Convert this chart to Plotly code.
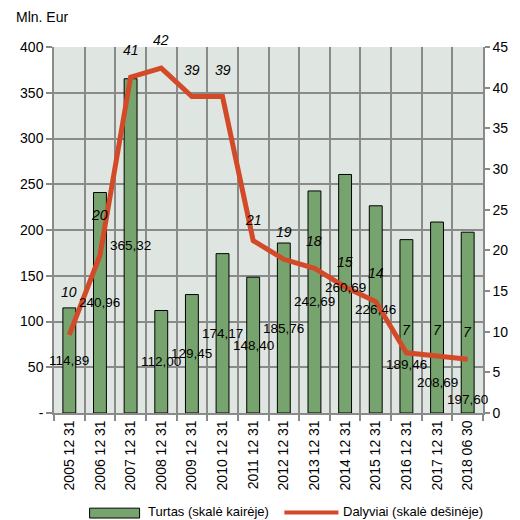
import plotly.graph_objects as go

categories = ["2005 12 31", "2006 12 31", "2007 12 31", "2008 12 31", "2009 12 31",
              "2010 12 31", "2011 12 31", "2012 12 31", "2013 12 31", "2014 12 31",
              "2015 12 31", "2016 12 31", "2017 12 31", "2018 06 30"]
turtas = [114.89, 240.96, 365.32, 112.00, 129.45, 174.17, 148.40, 185.76,
          242.69, 260.69, 226.46, 189.46, 208.69, 197.60]
dalyviai = [9.6, 19.4, 41.3, 42.4, 38.9, 38.9, 21.2, 18.9, 17.8, 15.5, 13.7, 7.4, 7.0, 6.6]
dalyviai_labels = ["10", "20", "41", "42", "39", "39", "21", "19", "18", "15", "14", "7", "7", "7"]
left_ticks = [0, 50, 100, 150, 200, 250, 300, 350, 400]
left_ticktext = ["-", "50", "100", "150", "200", "250", "300", "350", "400"]

# label offsets (style only)
bar_label_shift = [0, 0, 0, 0, 0, 0, 0, 0, 0, 6, 0, -38, -65, -77]
line_label_shift = [43, 40, 27, 28, 27, 27, 21, 27, 27, 25, 29, 23, 26, 27]

FONT = "Liberation Sans, Arial, sans-serif"
GREEN = "#77a46e"
RED = "#d24a28"
GRID = "#8a8a8a"
BG = "#dfe6e1"

fig = go.Figure()
fig.add_trace(go.Bar(x=categories, y=turtas, name="Turtas (skalė kairėje)",
                     marker=dict(color=GREEN, line=dict(color="black", width=1)),
                     width=0.42, yaxis="y", showlegend=False))
fig.add_trace(go.Scatter(x=categories, y=dalyviai, name="Dalyviai (skalė dešinėje)",
                         mode="lines", line=dict(color=RED, width=5),
                         yaxis="y2", showlegend=False))

annotations = []
for c, v, s in zip(categories, turtas, bar_label_shift):
    annotations.append(dict(x=c, y=v / 2, xref="x", yref="y", yshift=s,
                            text=f"{v:.2f}".replace(".", ","), showarrow=False,
                            font=dict(family=FONT, size=13.5, color="black")))
for c, v, t, s in zip(categories, dalyviai, dalyviai_labels, line_label_shift):
    annotations.append(dict(x=c, y=v, xref="x", yref="y2", yshift=s,
                            text=f"<i>{t}</i>", showarrow=False,
                            font=dict(family=FONT, size=14, color="black")))

# title
annotations.append(dict(x=-0.094, y=1.082, xref="paper", yref="paper", xanchor="left",
                        yanchor="middle", text="Mln. Eur", showarrow=False,
                        font=dict(family=FONT, size=14, color="black")))
# manual legend texts
annotations.append(dict(x=0.215, y=-0.270, xref="paper", yref="paper", xanchor="left",
                        yanchor="middle", text="Turtas (skalė kairėje)", showarrow=False,
                        font=dict(family=FONT, size=13, color="black")))
annotations.append(dict(x=0.668, y=-0.270, xref="paper", yref="paper", xanchor="left",
                        yanchor="middle", text="Dalyviai (skalė dešinėje)", showarrow=False,
                        font=dict(family=FONT, size=13, color="black")))

shapes = [
    dict(type="rect", xref="paper", yref="paper", x0=0.083, x1=0.1995, y0=-0.260, y1=-0.287,
         fillcolor=GREEN, line=dict(color="black", width=1)),
    dict(type="line", xref="paper", yref="paper", x0=0.537, x1=0.663, y0=-0.272, y1=-0.272,
         line=dict(color=RED, width=4)),
]

fig.update_layout(
    width=512, height=512,
    margin=dict(l=45, r=31, t=39, b=107),
    paper_bgcolor="white", plot_bgcolor=BG,
    font=dict(family=FONT, size=14, color="black"),
    xaxis=dict(type="category", tickson="boundaries", showgrid=True, gridcolor=GRID,
               gridwidth=1.5, ticks="outside", ticklen=6, tickcolor=GRID, tickwidth=1.5,
               tickangle=-90, showline=True, linecolor=GRID, linewidth=1.5,
               tickfont=dict(family=FONT, size=14), range=[-0.5, 13.5]),
    yaxis=dict(range=[0, 400], tickvals=left_ticks, ticktext=left_ticktext,
               showgrid=True, gridcolor=GRID, gridwidth=1.5, ticks="outside", ticklen=6,
               tickcolor=GRID, tickwidth=1.5, showline=True, linecolor=GRID, linewidth=1.5,
               zeroline=False, tickfont=dict(family=FONT, size=14)),
    yaxis2=dict(range=[0, 45], dtick=5, tick0=0, overlaying="y", side="right", anchor="x",
                showgrid=False, ticks="outside", ticklen=5, tickcolor=GRID, tickwidth=1.5,
                showline=True, linecolor=GRID, linewidth=1.5, zeroline=False,
                tickfont=dict(family=FONT, size=14)),
    yaxis3=dict(range=[0, 45], dtick=5, tick0=0, overlaying="y", side="right", anchor="x",
                showgrid=False, ticks="inside", ticklen=5, tickcolor=GRID, tickwidth=1.5,
                showticklabels=False, showline=False, zeroline=False),
    annotations=annotations,
    shapes=shapes,
)

fig.write_html("out.html")
